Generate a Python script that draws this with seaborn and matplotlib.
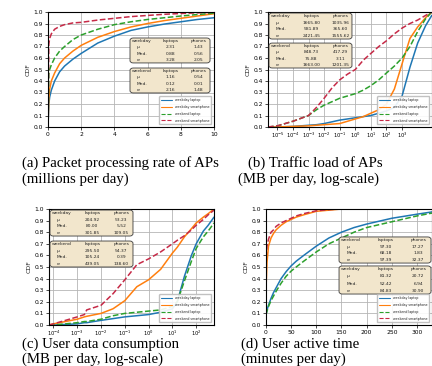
import matplotlib
matplotlib.use("Agg")
import matplotlib.pyplot as plt
from matplotlib.patches import FancyBboxPatch
from matplotlib.ticker import FormatStrFormatter, NullLocator
import seaborn as sns

# (a) packet processing rate of APs, millions of packets per day
rate_mpkt = [0, 0.05, 0.1, 0.2, 0.4, 0.7, 1, 1.5, 2, 3, 4, 5, 6, 7, 8, 9, 10]
rate_weekday_laptop = [0, 0.20, 0.26, 0.32, 0.40, 0.48, 0.53, 0.59, 0.64, 0.73, 0.79, 0.84, 0.87, 0.895, 0.915, 0.935, 0.95]
rate_weekday_phone = [0, 0.25, 0.33, 0.40, 0.47, 0.55, 0.60, 0.66, 0.71, 0.78, 0.83, 0.87, 0.90, 0.925, 0.945, 0.965, 0.985]
rate_weekend_laptop = [0, 0.46, 0.50, 0.54, 0.60, 0.66, 0.70, 0.76, 0.80, 0.85, 0.89, 0.915, 0.935, 0.95, 0.965, 0.978, 0.99]
rate_weekend_phone = [0, 0.72, 0.77, 0.81, 0.85, 0.875, 0.89, 0.905, 0.91, 0.93, 0.945, 0.96, 0.97, 0.98, 0.987, 0.993, 0.997]

# (b) traffic load of APs, MB per day
load_mb = [2.5e-6, 1e-5, 1e-4, 1e-3, 3.2e-3, 1e-2, 3.2e-2, 0.1, 0.32, 1, 3.2, 10, 32, 100, 320, 1000, 3200, 1e4, 3.2e4, 8e4]
load_weekday_laptop = [0, 0, 0.005, 0.015, 0.02, 0.03, 0.045, 0.06, 0.07, 0.08, 0.09, 0.10, 0.12, 0.14, 0.17, 0.27, 0.52, 0.73, 0.88, 0.97]
load_weekday_phone = [0, 0, 0.005, 0.01, 0.015, 0.02, 0.025, 0.03, 0.05, 0.07, 0.09, 0.12, 0.15, 0.20, 0.33, 0.55, 0.77, 0.87, 0.95, 1.0]
load_weekend_laptop = [0, 0.01, 0.05, 0.10, 0.15, 0.19, 0.22, 0.25, 0.27, 0.29, 0.32, 0.36, 0.41, 0.47, 0.53, 0.60, 0.70, 0.83, 0.94, 1.0]
load_weekend_phone = [0, 0.01, 0.05, 0.10, 0.17, 0.25, 0.34, 0.41, 0.46, 0.50, 0.58, 0.64, 0.70, 0.75, 0.81, 0.86, 0.90, 0.93, 0.97, 1.0]

# (c) user data consumption, MB per day
usage_mb = [6.5e-5, 1e-4, 3.2e-4, 1e-3, 2e-3, 2.5e-3, 1e-2, 3.2e-2, 0.1, 0.32, 1, 3.2, 10, 16, 32, 63, 100, 200, 320, 560]
usage_weekday_laptop = [0, 0, 0.005, 0.01, 0.02, 0.02, 0.04, 0.055, 0.07, 0.08, 0.09, 0.11, 0.14, 0.20, 0.42, 0.60, 0.70, 0.81, 0.86, 0.93]
usage_weekday_phone = [0, 0.01, 0.03, 0.05, 0.07, 0.075, 0.10, 0.14, 0.21, 0.33, 0.39, 0.48, 0.62, 0.67, 0.76, 0.83, 0.88, 0.93, 0.96, 1.0]
usage_weekend_laptop = [0, 0, 0.01, 0.02, 0.03, 0.03, 0.05, 0.08, 0.10, 0.11, 0.12, 0.13, 0.16, 0.20, 0.38, 0.55, 0.66, 0.76, 0.81, 0.88]
usage_weekend_phone = [0, 0.01, 0.04, 0.07, 0.09, 0.13, 0.17, 0.27, 0.39, 0.52, 0.57, 0.63, 0.70, 0.73, 0.77, 0.82, 0.86, 0.91, 0.95, 0.99]

# (d) user active time, minutes per day
active_min = [0, 2, 5, 10, 15, 20, 30, 40, 50, 60, 75, 100, 125, 150, 175, 200, 250, 300, 330]
active_min_phone = [0, 2, 5, 10, 15, 20, 30, 40, 50, 60, 75, 100, 125, 150]
active_weekday_laptop = [0.09, 0.13, 0.17, 0.23, 0.28, 0.32, 0.40, 0.46, 0.51, 0.55, 0.60, 0.68, 0.75, 0.80, 0.84, 0.87, 0.92, 0.955, 0.975]
active_weekday_phone = [0.31, 0.54, 0.68, 0.75, 0.79, 0.82, 0.86, 0.89, 0.91, 0.93, 0.95, 0.98, 0.99, 1.0]
active_weekend_laptop = [0.09, 0.12, 0.16, 0.21, 0.25, 0.29, 0.36, 0.42, 0.465, 0.50, 0.55, 0.63, 0.70, 0.75, 0.80, 0.84, 0.89, 0.94, 0.965]
active_weekend_phone = [0.58, 0.68, 0.74, 0.80, 0.82, 0.85, 0.88, 0.90, 0.92, 0.94, 0.96, 0.985, 0.995, 1.0]

series_labels = ["weekday laptop", "weekday smartphone", "weekend laptop", "weekend smartphone"]
series_colors = ["#1f77b4", "#ff7f0e", "#2ca02c", "#c62a47"]
series_styles = ["-", "-", "--", "--"]

stat_names = ["\u03bc", "Med.", "\u03c3"]
rate_weekday_stats = [("2.31", "1.43"), ("0.88", "0.56"), ("3.28", "2.05")]
rate_weekend_stats = [("1.16", "0.54"), ("0.12", "0.01"), ("2.16", "1.48")]
load_weekday_stats = [("1665.80", "1035.96"), ("581.89", "365.60"), ("2421.45", "1555.62")]
load_weekend_stats = [("848.73", "417.29"), ("75.88", "3.11"), ("1663.00", "1201.35")]
usage_weekday_stats = [("204.92", "53.23"), ("80.00", "5.52"), ("301.85", "109.05")]
usage_weekend_stats = [("295.50", "54.37"), ("105.24", "0.39"), ("439.05", "138.60")]
active_weekend_stats = [("97.30", "17.27"), ("68.18", "1.83"), ("97.39", "32.37")]
active_weekday_stats = [("81.32", "20.72"), ("52.42", "6.94"), ("84.83", "30.90")]

captions = [
    ("(a) Packet processing rate of APs", "(millions per day)"),
    ("(b) Traffic load of APs", "(MB per day, log-scale)"),
    ("(c) User data consumption", "(MB per day, log-scale)"),
    ("(d) User active time", "(minutes per day)"),
]

sns.set_theme(style="whitegrid")
plt.rcParams["font.family"] = ["DejaVu Sans"]
plt.rcParams["mathtext.fontset"] = "dejavusans"

W, H = 432, 366
fig = plt.figure(figsize=(W / 100, H / 100), dpi=100)
fig.patch.set_facecolor("white")


def px_axes(x0, y0, x1, y1):
    return fig.add_axes([x0 / W, 1 - y1 / H, (x1 - x0) / W, (y1 - y0) / H])


def draw_cdfs(ax, xs, curves):
    for x, y, label, color, style in zip(xs, curves, series_labels, series_colors, series_styles):
        sns.lineplot(x=x, y=y, ax=ax, color=color, linestyle=style, linewidth=1.1,
                     label=label, sort=False, errorbar=None)


def style_axes(ax):
    ax.set_ylim(0, 1)
    ax.set_yticks([i / 10 for i in range(11)])
    ax.yaxis.set_major_formatter(FormatStrFormatter("%.1f"))
    ax.set_ylabel("CDF", fontsize=4.5, labelpad=2)
    ax.set_xlabel("")
    ax.set_facecolor("white")
    ax.grid(True, color="#b5b5b5", linewidth=0.6)
    for sp in ax.spines.values():
        sp.set_color("black")
        sp.set_linewidth(0.8)
    ax.tick_params(bottom=True, left=True, length=2, width=0.5, pad=1.5,
                   labelsize=4.3, color="black", labelcolor="black")


def log_ticks(ax, lo, hi):
    ax.set_xticks([10.0 ** k for k in range(lo, hi + 1)])
    ax.xaxis.set_minor_locator(NullLocator())
    ax.tick_params(axis="x", labelsize=3.7, pad=1.0)


def stats_box(ax, left, bottom, width, height, title, values):
    ax.add_patch(FancyBboxPatch((left, bottom), width, height,
                                boxstyle="round,pad=0,rounding_size=0.02",
                                transform=ax.transAxes, facecolor="#f2e6cc",
                                edgecolor="#3a3a3a", linewidth=0.6, zorder=6,
                                clip_on=False))
    row_h = height / 4
    ys = [bottom + height - (i + 0.5) * row_h for i in range(4)]
    kw = dict(transform=ax.transAxes, fontsize=3.2, va="center", zorder=7, color="#222222")
    ax.text(left + 0.02 * width, ys[0], title, ha="left", **kw)
    ax.text(left + 0.51 * width, ys[0], "laptops", ha="center", **kw)
    ax.text(left + 0.86 * width, ys[0], "phones", ha="center", **kw)
    for y, name, (lap, ph) in zip(ys[1:], stat_names, values):
        ax.text(left + 0.08 * width, y, name, ha="left", **kw)
        ax.text(left + 0.51 * width, y, lap, ha="center", **kw)
        ax.text(left + 0.86 * width, y, ph, ha="center", **kw)


def small_legend(ax):
    leg = ax.legend(loc="lower right", fontsize=2.3, frameon=True, handlelength=3.5,
                    labelspacing=0.9, borderaxespad=0.8, borderpad=0.6,
                    framealpha=0.9, edgecolor="#bbbbbb", fancybox=True)
    leg.set_zorder(8)
    for line in leg.get_lines():
        line.set_linewidth(0.8)


# (a)
ax_a = px_axes(48, 12, 214, 127)
draw_cdfs(ax_a, [rate_mpkt] * 4,
          [rate_weekday_laptop, rate_weekday_phone, rate_weekend_laptop, rate_weekend_phone])
style_axes(ax_a)
ax_a.set_xlim(0, 10)
ax_a.set_xticks([0, 2, 4, 6, 8, 10])
stats_box(ax_a, 0.494, 0.557, 0.482, 0.217, "weekday", rate_weekday_stats)
stats_box(ax_a, 0.494, 0.296, 0.482, 0.217, "weekend", rate_weekend_stats)
small_legend(ax_a)

# (b)
ax_b = px_axes(268, 12, 432, 127)
draw_cdfs(ax_b, [load_mb] * 4,
          [load_weekday_laptop, load_weekday_phone, load_weekend_laptop, load_weekend_phone])
ax_b.set_xscale("log")
style_axes(ax_b)
ax_b.set_xlim(2.5e-6, 8.3e4)
log_ticks(ax_b, -5, 3)
stats_box(ax_b, 0.006, 0.765, 0.506, 0.226, "weekday", load_weekday_stats)
stats_box(ax_b, 0.006, 0.513, 0.506, 0.217, "weekend", load_weekend_stats)
small_legend(ax_b)

# (c)
ax_c = px_axes(49, 209, 214, 325)
draw_cdfs(ax_c, [usage_mb] * 4,
          [usage_weekday_laptop, usage_weekday_phone, usage_weekend_laptop, usage_weekend_phone])
ax_c.set_xscale("log")
style_axes(ax_c)
ax_c.set_xlim(6.5e-5, 560)
log_ticks(ax_c, -4, 2)
stats_box(ax_c, 0.006, 0.767, 0.503, 0.224, "weekday", usage_weekday_stats)
stats_box(ax_c, 0.006, 0.500, 0.503, 0.224, "weekend", usage_weekend_stats)
small_legend(ax_c)

# (d)
ax_d = px_axes(266, 209, 432, 325)
draw_cdfs(ax_d, [active_min, active_min_phone, active_min, active_min_phone],
          [active_weekday_laptop, active_weekday_phone, active_weekend_laptop, active_weekend_phone])
style_axes(ax_d)
ax_d.set_xlim(0, 330)
ax_d.set_xticks([0, 50, 100, 150, 200, 250, 300])
stats_box(ax_d, 0.44, 0.534, 0.554, 0.225, "weekend", active_weekend_stats)
stats_box(ax_d, 0.44, 0.267, 0.554, 0.242, "weekday", active_weekday_stats)
small_legend(ax_d)

# Sub-figure captions
cap_pos = [((22, 163), (22, 179)), ((248, 163), (238, 179)),
           ((22, 344), (22, 359)), ((241, 344), (241, 359))]
for (l1, l2), (p1, p2) in zip(captions, cap_pos):
    for text, (x, y) in ((l1, p1), (l2, p2)):
        fig.text(x / W, 1 - y / H, text, ha="left", va="center", fontsize=10.7,
                 family=["Liberation Serif", "DejaVu Serif"], color="black")

fig.savefig("out.png", dpi=100, facecolor="white")
